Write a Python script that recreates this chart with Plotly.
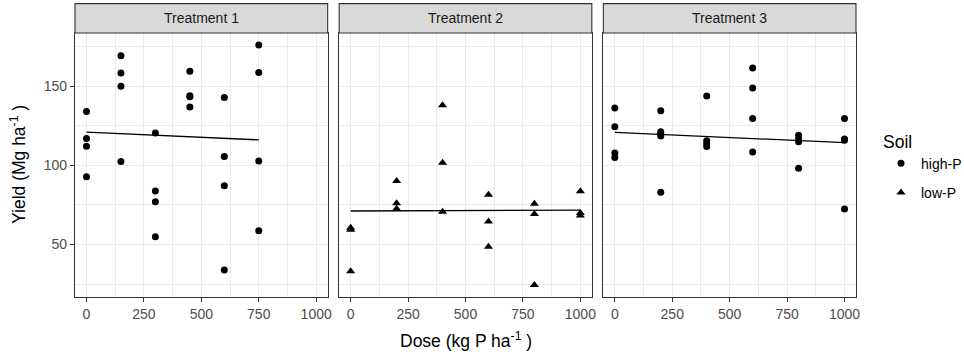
import plotly.graph_objects as go
from plotly.subplots import make_subplots
import numpy as np

# ---------------- data ----------------
treatments = ["Treatment 1", "Treatment 2", "Treatment 3"]
soil = ["high-P", "low-P", "high-P"]

t1_dose = [0, 0, 0, 0, 150, 150, 150, 150, 300, 300, 300, 300,
           450, 450, 450, 450, 600, 600, 600, 600, 750, 750, 750, 750]
t1_yield = [134.0, 116.9, 112.0, 92.8, 169.2, 158.2, 149.8, 102.3,
            120.3, 83.8, 77.0, 54.9, 159.3, 143.9, 143.3, 136.7,
            142.8, 105.5, 87.1, 33.8, 176.0, 158.6, 102.7, 58.6]

t2_dose = [0, 0, 0, 200, 200, 200, 400, 400, 400,
           600, 600, 600, 800, 800, 800, 1000, 1000, 1000]
t2_yield = [60.5, 59.3, 33.0, 90.1, 76.0, 72.6, 137.8, 101.5, 70.6,
            81.3, 64.5, 48.6, 75.7, 69.2, 24.3, 83.5, 69.9, 68.3]

t3_dose = [0, 0, 0, 0, 200, 200, 200, 200, 200, 400, 400, 400, 400,
           600, 600, 600, 600, 800, 800, 800, 800, 1000, 1000, 1000, 1000]
t3_yield = [136.1, 124.3, 107.8, 104.9, 134.4, 121.2, 119.8, 118.4, 82.9,
            143.7, 115.5, 113.5, 111.8, 161.4, 148.7, 129.5, 108.4,
            119.0, 116.7, 114.8, 98.1, 129.5, 116.5, 115.8, 72.4]

# fitted model lines
fit_intercept = [120.9, 71.1, 120.7]
fit_slope = [-0.0065, 0.0006, -0.0064]

x_ticks = [0, 250, 500, 750, 1000]
x_minor = [125, 375, 625, 875]
y_ticks = [50, 100, 150]
y_minor = [25, 75, 125, 175]

doses = [t1_dose, t2_dose, t3_dose]
yields = [t1_yield, t2_yield, t3_yield]

# ---------------- layout geometry ----------------
W, H = 964, 354
ml, mr, mt, mb = 75, 108, 33.3, 57.3
pw = W - ml - mr
ph = H - mt - mb
gap = 11.5
panel_w = (pw - 2 * gap) / 3
domains = []
for i in range(3):
    x0 = i * (panel_w + gap) / pw
    domains.append([x0, x0 + panel_w / pw])

FONT = "Liberation Sans, Arial, sans-serif"

fig = make_subplots(rows=1, cols=3, shared_yaxes=True, horizontal_spacing=0.02)

symbols = {"high-P": "circle", "low-P": "triangle-up"}
shown = set()
for i in range(3):
    s = soil[i]
    fig.add_trace(go.Scatter(
        x=doses[i], y=yields[i], mode="markers",
        marker=dict(symbol=symbols[s], size=7 if s == "high-P" else 8,
                    color="black", line=dict(width=0)),
        name=s, legendgroup=s, showlegend=s not in shown,
    ), row=1, col=i + 1)
    shown.add(s)

for i in range(3):
    xs = np.array([min(doses[i]), max(doses[i])], dtype=float)
    ys = fit_intercept[i] + fit_slope[i] * xs
    fig.add_trace(go.Scatter(
        x=xs, y=ys, mode="lines", line=dict(color="black", width=1.3),
        showlegend=False, hoverinfo="skip"), row=1, col=i + 1)

axis_common = dict(
    showgrid=True, gridcolor="#EBEBEB", gridwidth=1.3,
    showline=True, mirror=True, linecolor="#333333", linewidth=1.1,
    zeroline=False, tickcolor="#333333", tickwidth=1.1, ticklen=4,
    tickfont=dict(family=FONT, size=14, color="#4D4D4D"),
    automargin=False,
)

for i in range(3):
    xa = "xaxis" if i == 0 else f"xaxis{i+1}"
    ya = "yaxis" if i == 0 else f"yaxis{i+1}"
    fig.layout[xa].update(
        domain=domains[i], range=[-50, 1050], tickmode="array",
        tickvals=x_ticks, ticks="outside",
        minor=dict(tickvals=x_minor, showgrid=True, gridcolor="#EBEBEB",
                   gridwidth=0.65),
        **axis_common)
    fig.layout[ya].update(
        range=[16.8, 183.5], tickmode="array", tickvals=y_ticks,
        ticks="outside" if i == 0 else "",
        showticklabels=(i == 0),
        minor=dict(tickvals=y_minor, showgrid=True, gridcolor="#EBEBEB",
                   gridwidth=0.65),
        **axis_common)

# strips
strip_h = 29.3 / ph
for i in range(3):
    xref = "x domain" if i == 0 else f"x{i+1} domain"
    fig.add_shape(type="rect", xref=xref, yref="paper", x0=0, x1=1,
                  y0=1, y1=1 + strip_h, fillcolor="#D9D9D9",
                  line=dict(color="#333333", width=1.1), layer="above")
    fig.add_annotation(xref=xref, yref="paper", x=0.5, y=1 + strip_h / 2,
                       text=treatments[i], showarrow=False,
                       xanchor="center", yanchor="middle",
                       font=dict(family=FONT, size=14, color="#1A1A1A"))

# axis titles
fig.add_annotation(xref="paper", yref="paper", x=0.5, y=0, yshift=-43,
                   text="Dose (kg P ha<sup>-1</sup> )", showarrow=False,
                   xanchor="center", yanchor="middle",
                   font=dict(family=FONT, size=17.5, color="black"))
fig.add_annotation(xref="paper", yref="paper", x=0, xshift=-57, y=0.5,
                   text="Yield (Mg ha<sup>-1</sup> )", showarrow=False,
                   textangle=-90, xanchor="center", yanchor="middle",
                   font=dict(family=FONT, size=17.5, color="black"))

fig.update_layout(
    width=W, height=H,
    margin=dict(l=ml, r=mr, t=mt, b=mb, pad=0, autoexpand=False),
    paper_bgcolor="white", plot_bgcolor="white",
    font=dict(family=FONT, color="black"),
    legend=dict(
        title=dict(text="Soil", font=dict(family=FONT, size=17.5, color="black")),
        font=dict(family=FONT, size=14, color="black"),
        x=(881 - ml) / pw, xanchor="left",
        y=(H - mb - 125) / ph, yanchor="top",
        tracegroupgap=8, bgcolor="rgba(0,0,0,0)", borderwidth=0,
    ),
)

fig.write_html(
    "out.html",
    config={"displayModeBar": False},
    post_script="document.body.style.margin='0px';document.body.style.padding='0px';"
                "document.body.style.overflow='hidden';window.dispatchEvent(new Event('resize'));",
)
